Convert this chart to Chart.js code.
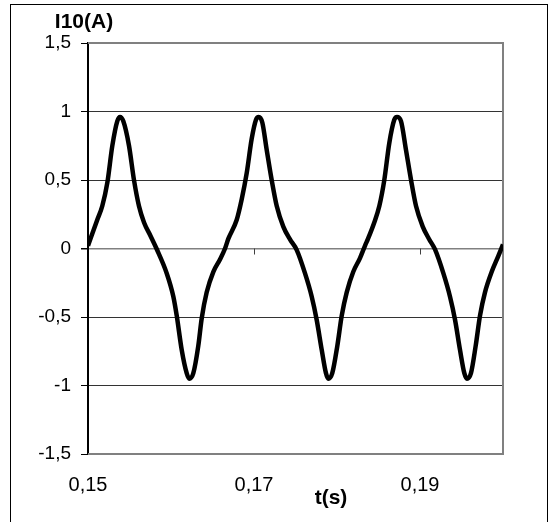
<!DOCTYPE html>
<html>
<head>
<meta charset="utf-8">
<script src="https://cdn.jsdelivr.net/npm/chart.js@4.4.1/dist/chart.umd.min.js"></script>
<style>
  html, body { margin: 0; padding: 0; background: #fff; overflow: hidden; }
  .frame { position: absolute; left: 10px; top: 4px; width: 536px; height: 560px; border: 1px solid #000; }
  .wrap { position: absolute; left: 0; top: 0; width: 549px; height: 522px; }
</style>
</head>
<body>
<div class="frame"></div>
<div class="wrap"><canvas id="chart" width="549" height="522"></canvas></div>
<script>
// values: time (s) and current I10 (A)
const timeS = [
  0.15000, 0.15112, 0.15172, 0.15233, 0.15293, 0.15353, 0.15386, 0.15425, 0.15494,
  0.15554, 0.15614, 0.15675, 0.15755, 0.15825, 0.15948, 0.16028, 0.16069, 0.16129,
  0.16189, 0.16220, 0.16269, 0.16329, 0.16370, 0.16430, 0.16510, 0.16590, 0.16651,
  0.16690, 0.16792, 0.16852, 0.16912, 0.16972, 0.17024, 0.17057, 0.17100, 0.17153,
  0.17213, 0.17274, 0.17353, 0.17434, 0.17514, 0.17614, 0.17695, 0.17755, 0.17816,
  0.17867, 0.17895, 0.17943, 0.18004, 0.18057, 0.18117, 0.18196, 0.18277, 0.18337,
  0.18373, 0.18449, 0.18510, 0.18570, 0.18630, 0.18690, 0.18723, 0.18771, 0.18831,
  0.18892, 0.18952, 0.19033, 0.19112, 0.19181, 0.19281, 0.19361, 0.19422, 0.19482,
  0.19534, 0.19566, 0.19614, 0.19671, 0.19723, 0.19783, 0.19864, 0.19943, 0.20000
];
const currentA = [
  0.02, 0.21, 0.31, 0.48, 0.75, 0.93, 0.96, 0.93, 0.75,
  0.50, 0.31, 0.19, 0.09, 0.0, -0.18, -0.35, -0.49, -0.74,
  -0.91, -0.95, -0.91, -0.71, -0.51, -0.32, -0.17, -0.08, 0.0,
  0.07, 0.21, 0.36, 0.55, 0.80, 0.94, 0.96, 0.92, 0.72,
  0.50, 0.31, 0.16, 0.066, -0.01, -0.18, -0.35, -0.52, -0.74,
  -0.91, -0.95, -0.91, -0.71, -0.49, -0.32, -0.17, -0.07, 0.02,
  0.07, 0.19, 0.31, 0.50, 0.77, 0.94, 0.96, 0.93, 0.72,
  0.50, 0.31, 0.16, 0.066, -0.007, -0.18, -0.35, -0.52, -0.74,
  -0.91, -0.95, -0.91, -0.71, -0.49, -0.32, -0.17, -0.056, 0.03
];
const xTicks = [0.15, 0.17, 0.19];
const yTicks = [-1.5, -1, -0.5, 0, 0.5, 1, 1.5];

const yTitle = "I10(A)";
const xTitle = "t(s)";

const fmt = v => String(v).replace(".", ",");

const points = timeS.map((t, i) => ({ x: t, y: currentA[i] }));

// plot frame, little x ticks on the zero line, axis titles
const extras = {
  id: "extras",
  beforeDatasetsDraw(chart) {
    const { ctx, chartArea, scales } = chart;
    ctx.save();
    // x ticks sit on the 0 line
    const y0 = scales.y.getPixelForValue(0);
    ctx.strokeStyle = "#404040";
    ctx.lineWidth = 1;
    xTicks.slice(1).forEach(v => {
      const x = Math.round(scales.x.getPixelForValue(v)) + 0.5;
      ctx.beginPath();
      ctx.moveTo(x, y0);
      ctx.lineTo(x, y0 + 6);
      ctx.stroke();
    });
    // gray plot border top / right / bottom
    ctx.strokeStyle = "#808080";
    ctx.lineWidth = 2;
    ctx.beginPath();
    ctx.moveTo(chartArea.left, chartArea.top);
    ctx.lineTo(chartArea.right, chartArea.top);
    ctx.lineTo(chartArea.right, chartArea.bottom);
    ctx.lineTo(chartArea.left, chartArea.bottom);
    ctx.stroke();
    ctx.restore();
  },
  afterDraw(chart) {
    const { ctx } = chart;
    ctx.save();
    ctx.fillStyle = "#000";
    ctx.font = "bold 21px 'Liberation Sans', Arial, sans-serif";
    ctx.textAlign = "center";
    ctx.textBaseline = "middle";
    ctx.fillText(yTitle, 84, 22);
    ctx.fillText(xTitle, 331, 498);
    ctx.restore();
  }
};

new Chart(document.getElementById("chart"), {
  type: "line",
  data: {
    datasets: [{
      data: points,
      borderColor: "#000",
      borderWidth: 4.5,
      pointRadius: 0,
      fill: false,
      cubicInterpolationMode: "monotone"
    }]
  },
  options: {
    responsive: false,
    animation: false,
    devicePixelRatio: 1,
    layout: { padding: { top: 43, right: 46, left: 0, bottom: 0 } },
    plugins: { legend: { display: false }, tooltip: { enabled: false } },
    scales: {
      x: {
        type: "linear",
        min: 0.15,
        max: 0.2,
        afterBuildTicks: s => { s.ticks = xTicks.map(v => ({ value: v })); },
        afterFit: s => { s.height = 68; },
        grid: { display: false, drawTicks: false },
        border: { display: false },
        ticks: {
          color: "#000",
          padding: 19,
          maxRotation: 0,
          font: { family: "'Liberation Sans', Arial, sans-serif", size: 20 },
          callback: v => fmt(v)
        }
      },
      y: {
        min: -1.5,
        max: 1.5,
        afterBuildTicks: s => { s.ticks = yTicks.map(v => ({ value: v })); },
        afterFit: s => { s.width = 88; },
        grid: {
          color: c => {
            const v = c.tick ? c.tick.value : null;
            if (v === 1.5 || v === -1.5) return "rgba(0,0,0,0)";
            if (v === 0) return "#808080";
            return "#333";
          },
          lineWidth: c => (c.tick && c.tick.value === 0 ? 1.5 : 1),
          tickColor: "#000",
          tickLength: 7
        },
        border: { display: true, color: "#000", width: 2 },
        ticks: {
          color: "#000",
          padding: 10,
          font: { family: "'Liberation Sans', Arial, sans-serif", size: 19 },
          callback: v => fmt(v)
        }
      }
    }
  },
  plugins: [extras]
});
</script>
</body>
</html>
